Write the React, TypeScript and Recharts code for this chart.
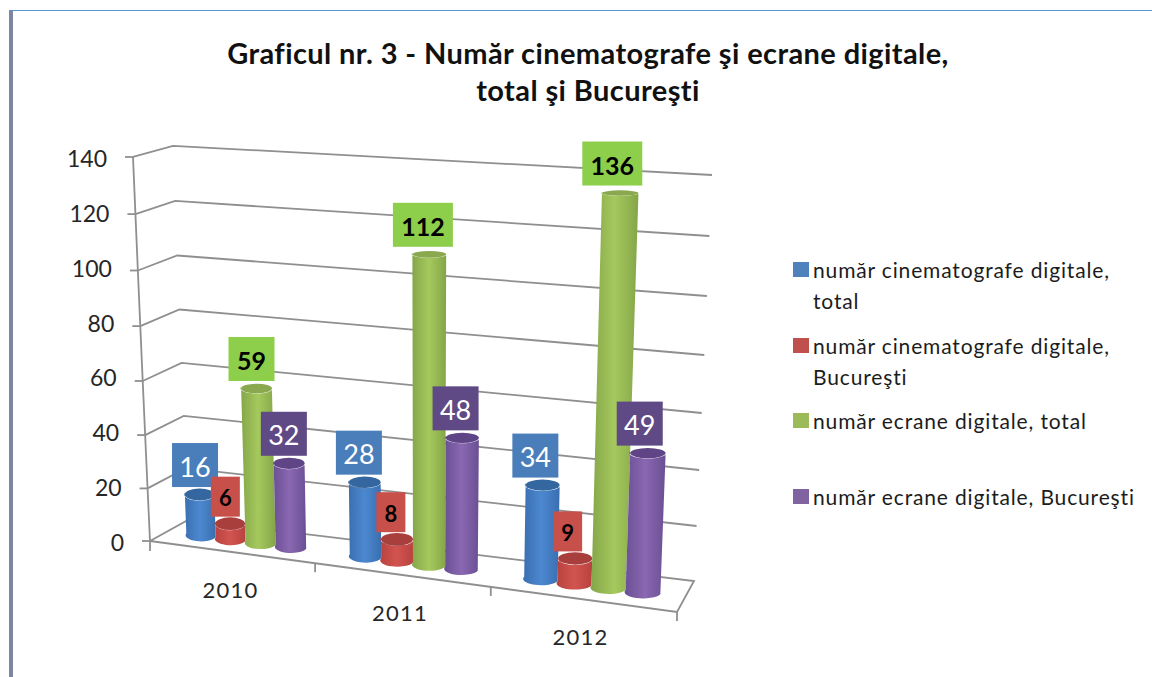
import { BarChart, Bar, XAxis, YAxis, CartesianGrid, Legend, LabelList } from 'recharts';

const years = ['2010', '2011', '2012'];
const cinemasTotal = [16, 28, 34];
const cinemasBucuresti = [6, 8, 9];
const screensTotal = [59, 112, 136];
const screensBucuresti = [32, 48, 49];
const yTicks = [0, 20, 40, 60, 80, 100, 120, 140];

const data = years.map((year, i) => ({
  year,
  cinemasTotal: cinemasTotal[i],
  cinemasBucuresti: cinemasBucuresti[i],
  screensTotal: screensTotal[i],
  screensBucuresti: screensBucuresti[i],
}));

const FONT = 'Lato, "Open Sans", sans-serif';
const GRID = '#8f8f8f';

// plot rectangle handed to recharts, the fake 3D is worked out from it
const PLOT_LEFT = 153.5;
const PLOT_WIDTH = 519;
const PLOT_TOP = 157;
const PLOT_HEIGHT = 384;
const MAX = 140;

const toValue = (y: number) => ((PLOT_TOP + PLOT_HEIGHT - y) / PLOT_HEIGHT) * MAX;

// perspective of the bars, they stand half way into the floor
const bend = (p: number) => p + 0.000184 * (p - 413) * (p - 413);
const project = (p: number, v: number) => {
  const x = bend(p);
  const rise = v * (2.52 + 0.0006 * (x - 200) + 0.001 * v);
  return { x: x + (x - 425) * 0.00016 * rise, y: 535 + 0.1287 * (x - 200) - rise };
};

// the three corners of a gridline
const frontLeft = (v: number) => ({ x: 150 - (17 * v) / MAX, y: 541 - v * (2.61 + 0.00095 * v) });
const backLeft = (v: number) => ({ x: 188 - (15 * v) / MAX, y: 520 - v * (2.576 + 0.00069 * v) });
const backRight = (v: number) => ({ x: 694 + (18 * v) / MAX, y: 581 - v * (2.725 + 0.00125 * v) });

const floorFront = (p: number) => {
  const u = (p - PLOT_LEFT) / PLOT_WIDTH;
  const t = u * (0.91 + 0.09 * u);
  return { x: 150 + 527 * t, y: 541 + 71 * t };
};

function GridLine(props: any) {
  const v = toValue(props.y1);
  const a = frontLeft(v);
  const b = backLeft(v);
  const c = backRight(v);
  let d = `M${a.x} ${a.y}L${b.x} ${b.y}L${c.x} ${c.y}`;
  if (v < 1) d += `L677 612L${a.x} ${a.y}`;
  return <path key={props.key} d={d} fill="none" stroke={GRID} strokeWidth={1.8} />;
}

function YTick({ y, payload }: any) {
  const v = payload.value;
  const p = frontLeft(v);
  const next = frontLeft(v - 20);
  return (
    <g>
      {v > 0 && <line x1={p.x} y1={p.y} x2={next.x} y2={next.y} stroke={GRID} strokeWidth={1.8} />}
      <line x1={p.x - 8} y1={p.y} x2={p.x} y2={p.y} stroke={GRID} strokeWidth={1.8} />
      <text x={p.x - 26} y={y + 1} textAnchor="end" dominantBaseline="central" fontSize={23} fontFamily={FONT} fill="#262626">
        {v}
      </text>
    </g>
  );
}

function XTick({ x, index, payload }: any) {
  const half = PLOT_WIDTH / years.length / 2;
  const pos = project(x, 0);
  const end = floorFront(x + half);
  const start = floorFront(x - half);
  return (
    <g>
      {index === 0 && <line x1={start.x} y1={start.y} x2={start.x} y2={start.y + 10} stroke={GRID} strokeWidth={1.8} />}
      <line x1={end.x} y1={end.y} x2={end.x} y2={end.y + 9} stroke={GRID} strokeWidth={1.8} />
      <text x={pos.x - 15 + index * 2} y={pos.y + 49 + index} textAnchor="middle" dominantBaseline="central" fontSize={22} letterSpacing={1.2} fontFamily={FONT} fill="#262626">
        {payload.value}
      </text>
    </g>
  );
}

function Cylinder({ x, y, width, height, cap, gradient }: any) {
  if (!height) return null;
  const v = toValue(y);
  const lb = project(x, 0);
  const rb = project(x + width, 0);
  const lt = project(x, v);
  const rt = project(x + width, v);
  const rxB = (rb.x - lb.x) / 2;
  const rxT = (rt.x - lt.x) / 2;
  const ryB = 6;
  const ryT = Math.max(2.5, 6.5 - v * 0.028);
  const body = `M${lb.x} ${lb.y}A${rxB} ${ryB} 0 0 0 ${rb.x} ${rb.y}L${rt.x} ${rt.y}A${rxT} ${ryT} 0 0 1 ${lt.x} ${lt.y}Z`;
  return (
    <g>
      <path d={body} fill={`url(#${gradient})`} />
      <ellipse cx={(lt.x + rt.x) / 2} cy={(lt.y + rt.y) / 2} rx={rxT} ry={ryT} fill={cap} />
    </g>
  );
}

const makeLabel = (background: string, color: string) =>
  function ValueLabel({ x, y, width, value }: any) {
    const top = project(x + width / 2, toValue(y));
    const text = String(value);
    const w = text.length === 1 ? 29 : text.length === 2 ? 46 : 60;
    const h = text.length === 1 ? 40 : 44;
    const cx = top.x - 4.5 - (top.x - 200) * 0.008;
    const cy = top.y - (text.length === 1 ? 27 : 29.5);
    const black = color === '#000';
    return (
      <g>
        <rect x={cx - w / 2} y={cy - h / 2} width={w} height={h} fill={background} />
        <text
          x={cx}
          y={cy + 1}
          textAnchor="middle"
          dominantBaseline="central"
          fontFamily={FONT}
          fontSize={text.length === 1 ? 22 : black ? 25 : 27}
          fontWeight={black ? 700 : 400}
          fill={color}
        >
          {text}
        </text>
      </g>
    );
  };

function LegendList({ payload }: any) {
  return (
    <div style={{ width: 340, fontFamily: FONT, fontSize: 21, lineHeight: '31px', color: '#1c1c1c', letterSpacing: 0.85 }}>
      {(payload || []).map((item: any) => (
        <div key={item.value} style={{ height: 75.5, position: 'relative' }}>
          <span style={{ position: 'absolute', left: 0, top: 8, width: 16, height: 15, background: item.color }} />
          <div style={{ marginLeft: 20, width: 322 }}>{item.value}</div>
        </div>
      ))}
    </div>
  );
}

function Gradient({ id, edge, mid }: { id: string; edge: string; mid: string }) {
  return (
    <linearGradient id={id} x1="0" y1="0" x2="1" y2="0">
      <stop offset="0%" stopColor={edge} />
      <stop offset="50%" stopColor={mid} />
      <stop offset="100%" stopColor={edge} />
    </linearGradient>
  );
}

export default function App() {
  return (
    <div style={{ position: 'absolute', left: 0, top: 0, width: 1152, height: 677, background: '#fff', overflow: 'hidden' }}>
      <div style={{ position: 'absolute', left: 9, top: 10, right: 0, bottom: 0, borderTop: '1.5px solid #5a96dc', borderLeft: '4px solid #7d88a0' }} />
      <div
        style={{
          position: 'absolute',
          left: 88,
          width: 1000,
          top: 34,
          textAlign: 'center',
          fontFamily: FONT,
          fontWeight: 700,
          fontSize: 29,
          letterSpacing: 0.4,
          lineHeight: '37px',
          color: '#111',
        }}
      >
        Graficul nr. 3 - Număr cinematografe şi ecrane digitale,
        <br />
        total şi Bucureşti
      </div>
      <BarChart
        style={{ position: 'absolute', left: 0, top: 0 }}
        width={1152}
        height={677}
        data={data}
        barCategoryGap="13%"
        barGap={0}
        margin={{ top: PLOT_TOP, left: 93.5, right: 139.5, bottom: 106 }}
      >
        <defs>
          <Gradient id="cylBlue" edge="#3a6fb0" mid="#4c88d0" />
          <Gradient id="cylRed" edge="#b8423f" mid="#d25450" />
          <Gradient id="cylGreen" edge="#84a548" mid="#a5c95e" />
          <Gradient id="cylPurple" edge="#6a4f93" mid="#8a68b2" />
        </defs>
        <CartesianGrid vertical={false} horizontal={GridLine as any} />
        <XAxis dataKey="year" height={30} axisLine={false} tickLine={false} tick={XTick as any} interval={0} />
        <YAxis width={60} domain={[0, MAX]} ticks={yTicks} axisLine={false} tickLine={false} tick={YTick as any} interval={0} />
        <Legend layout="vertical" align="right" verticalAlign="top" width={340} itemSorter={null} content={LegendList as any} wrapperStyle={{ left: 793, top: 254, right: 'auto' }} />
        <Bar
          dataKey="cinemasTotal"
          name="număr cinematografe digitale, total"
          fill="#4f81bd"
          isAnimationActive={false}
          shape={(p: any) => <Cylinder {...p} gradient="cylBlue" cap="#34679f" />}
        >
          <LabelList dataKey="cinemasTotal" content={makeLabel('#4a7ebb', '#fff') as any} />
        </Bar>
        <Bar
          dataKey="cinemasBucuresti"
          name="număr cinematografe digitale, Bucureşti"
          fill="#c0504d"
          isAnimationActive={false}
          shape={(p: any) => <Cylinder {...p} gradient="cylRed" cap="#a83f3c" />}
        >
          <LabelList dataKey="cinemasBucuresti" content={makeLabel('#c8504b', '#000') as any} />
        </Bar>
        <Bar
          dataKey="screensTotal"
          name="număr ecrane digitale, total"
          fill="#9bbb59"
          isAnimationActive={false}
          shape={(p: any) => <Cylinder {...p} gradient="cylGreen" cap="#8aa94e" />}
        >
          <LabelList dataKey="screensTotal" content={makeLabel('#8dcf4b', '#000') as any} />
        </Bar>
        <Bar
          dataKey="screensBucuresti"
          name="număr ecrane digitale, Bucureşti"
          fill="#8064a2"
          isAnimationActive={false}
          shape={(p: any) => <Cylinder {...p} gradient="cylPurple" cap="#5f4585" />}
        >
          <LabelList dataKey="screensBucuresti" content={makeLabel('#5f4a85', '#fff') as any} />
        </Bar>
      </BarChart>
    </div>
  );
}
